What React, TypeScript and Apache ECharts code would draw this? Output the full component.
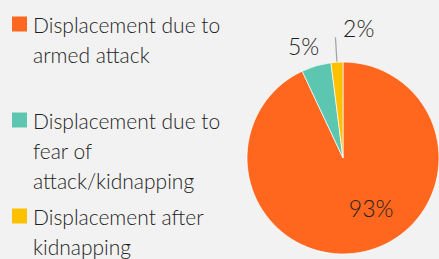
import React, { useEffect, useRef } from "react";
import * as echarts from "echarts";

const categories = [
  "Displacement due to armed attack",
  "Displacement due to fear of attack/kidnapping",
  "Displacement after kidnapping",
];
const legendLines = [
  ["Displacement due to", "armed attack", " "],
  ["Displacement due to", "fear of", "attack/kidnapping"],
  ["Displacement after", "kidnapping"],
];
const values = [93, 5, 2];
const colors = ["#FF671F", "#5CC6B1", "#FFC000"];
const labelPositions = ["inside", "outside", "outside"];
const labelShifts = [
  { dx: 17, dy: 0 },
  { dx: 15, dy: 4 },
  { dx: 44, dy: -9 },
];

const FONT = "Lato, 'Open Sans', sans-serif";
const TEXT = "#1e1e1e";

export default function App() {
  const ref = useRef<HTMLDivElement>(null);
  useEffect(() => {
    if (!ref.current) return;
    const chart = echarts.init(ref.current, undefined, { renderer: "svg" });
    const rich: Record<string, any> = {
      t: { fontSize: 21, fontFamily: FONT, fontWeight: 300, color: TEXT, lineHeight: 30, padding: [0, 0, 0, 6] },
      p: { width: 15, height: 15 },
    };
    colors.forEach((c, i) => {
      rich["m" + i] = { width: 15, height: 15, backgroundColor: c };
    });
    chart.setOption({
      animation: false,
      backgroundColor: "#F2F2F2",
      color: colors,
      legend: {
        orient: "vertical",
        left: 7,
        top: 9,
        padding: 0,
        itemGap: 6,
        icon: "none",
        itemWidth: 0,
        itemHeight: 0,
        selectedMode: false,
        data: categories,
        textStyle: { fontSize: 21, fontFamily: FONT, fontWeight: 300, color: TEXT, lineHeight: 30, rich },
        formatter: (name: string) => {
          const i = categories.indexOf(name);
          return legendLines[i]
            .map((l, k) => (k === 0 ? `{m${i}|}{t|${l}}` : `{p|}{t|${l}}`))
            .join("\n");
        },
      },
      series: [
        {
          type: "pie",
          center: [343, 158],
          radius: 96,
          startAngle: 90,
          clockwise: true,
          avoidLabelOverlap: false,
          itemStyle: { borderColor: "#ffffff", borderWidth: 0.7 },
          label: {
            fontSize: 23,
            fontFamily: FONT,
            fontWeight: 300,
            color: TEXT,
            formatter: "{c}%",
          },
          labelLine: { lineStyle: { color: "#A6A6A6", width: 1.3 }, length: 25, length2: 0 },
          labelLayout: (params: any) => labelShifts[params.dataIndex],
          data: categories.map((name, i) => ({
            name,
            value: values[i],
            label: { position: labelPositions[i] },
            labelLine: { show: i === 2 },
          })),
        },
      ],
    });
    return () => chart.dispose();
  }, []);
  return (
    <div
      ref={ref}
      style={{ position: "fixed", left: 0, top: 0, width: 439, height: 259 }}
    />
  );
}
